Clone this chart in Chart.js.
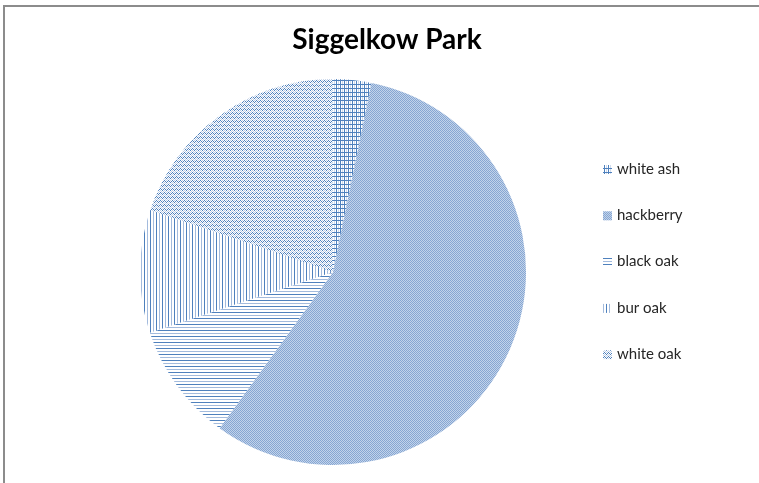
<!DOCTYPE html>
<html lang="en">
<head>
    <meta charset="UTF-8">
    <title>Siggelkow Park</title>
    <script src="https://cdn.jsdelivr.net/npm/chart.js"></script>
    <style>
        body { margin: 0; background: #fff; }
        #wrap { width: 759px; height: 483px; }
    </style>
</head>
<body>
    <div id="wrap"><canvas id="parkChart" width="759" height="483"></canvas></div>

    <script>
        // share of trees by species (percent)
        const species = ['white ash', 'hackberry', 'black oak', 'bur oak', 'white oak'];
        const shares = [3.2, 56.8, 9.9, 10.3, 19.8];
        const chartTitle = 'Siggelkow Park';

        const BLUE = '#4F81BD';
        const LIGHT = '#A3BBDD';

        // small pixel tiles that mimic the Excel fill patterns
        function makePattern(w, h, paint) {
            const c = document.createElement('canvas');
            c.width = w; c.height = h;
            const g = c.getContext('2d');
            g.fillStyle = '#fff';
            g.fillRect(0, 0, w, h);
            paint(g);
            return document.createElement('canvas').getContext('2d').createPattern(c, 'repeat');
        }

        const gridFill = makePattern(4, 4, g => {
            g.fillStyle = BLUE;
            g.fillRect(0, 0, 4, 1);
            g.fillRect(0, 0, 1, 4);
            g.fillStyle = '#D0DCEE';
            g.fillRect(2, 1, 1, 3);
        });
        const checkFill = makePattern(2, 2, g => {
            g.fillStyle = '#86A6D2';
            g.fillRect(0, 0, 1, 1);
            g.fillRect(1, 1, 1, 1);
            g.fillStyle = '#C2D3EA';
            g.fillRect(1, 0, 1, 1);
            g.fillRect(0, 1, 1, 1);
        });
        const hLines = makePattern(1, 6, g => {
            g.fillStyle = BLUE;
            g.fillRect(0, 0, 1, 1);
            g.fillStyle = LIGHT;
            g.fillRect(0, 3, 1, 1);
        });
        const vLines = makePattern(6, 1, g => {
            g.fillStyle = BLUE;
            g.fillRect(0, 0, 1, 1);
            g.fillStyle = LIGHT;
            g.fillRect(3, 0, 1, 1);
        });
        const zigzag = makePattern(4, 4, g => {
            g.fillStyle = BLUE;
            [0, 1, 2, 1].forEach((y, x) => g.fillRect(x, y, 1, 1));
            g.fillStyle = '#BCCDE6';
            [2, 3, 0, 3].forEach((y, x) => g.fillRect(x, y, 1, 1));
        });
        const fills = [gridFill, checkFill, hLines, vLines, zigzag];

        // frame, title and legend drawn straight on the chart canvas
        const decor = {
            id: 'decor',
            beforeDraw(chart) {
                const ctx = chart.ctx;
                ctx.save();
                ctx.fillStyle = '#fff';
                ctx.fillRect(0, 0, chart.width, chart.height);
                ctx.fillStyle = '#8C8C8C';
                ctx.fillRect(3, 5, chart.width, 2);
                ctx.fillRect(3, 5, 2, chart.height);
                ctx.restore();
            },
            afterDraw(chart) {
                const ctx = chart.ctx;
                ctx.save();
                ctx.fillStyle = '#000';
                ctx.font = 'bold 28px Lato';
                ctx.textAlign = 'center';
                ctx.textBaseline = 'alphabetic';
                ctx.fillText(chartTitle, 387, 49);

                ctx.font = '15px Lato';
                ctx.textAlign = 'left';
                ctx.textBaseline = 'middle';
                const ds = chart.data.datasets[0];
                chart.data.labels.forEach((lab, i) => {
                    const y = 169 + i * 46.3;
                    ctx.fillStyle = ds.backgroundColor[i];
                    ctx.fillRect(603, y - 4, 9, 9);
                    ctx.fillStyle = '#262626';
                    ctx.fillText(lab, 617, y);
                });
                ctx.restore();
            }
        };

        new Chart(document.getElementById('parkChart'), {
            type: 'pie',
            data: {
                labels: species,
                datasets: [{
                    data: shares,
                    backgroundColor: fills,
                    borderWidth: 0
                }]
            },
            options: {
                responsive: false,
                animation: false,
                radius: 193,
                layout: { padding: { left: 140, right: 233, top: 79, bottom: 18 } },
                plugins: {
                    legend: { display: false },
                    title: { display: false },
                    tooltip: { enabled: false }
                }
            },
            plugins: [decor]
        });
    </script>
</body>
</html>
